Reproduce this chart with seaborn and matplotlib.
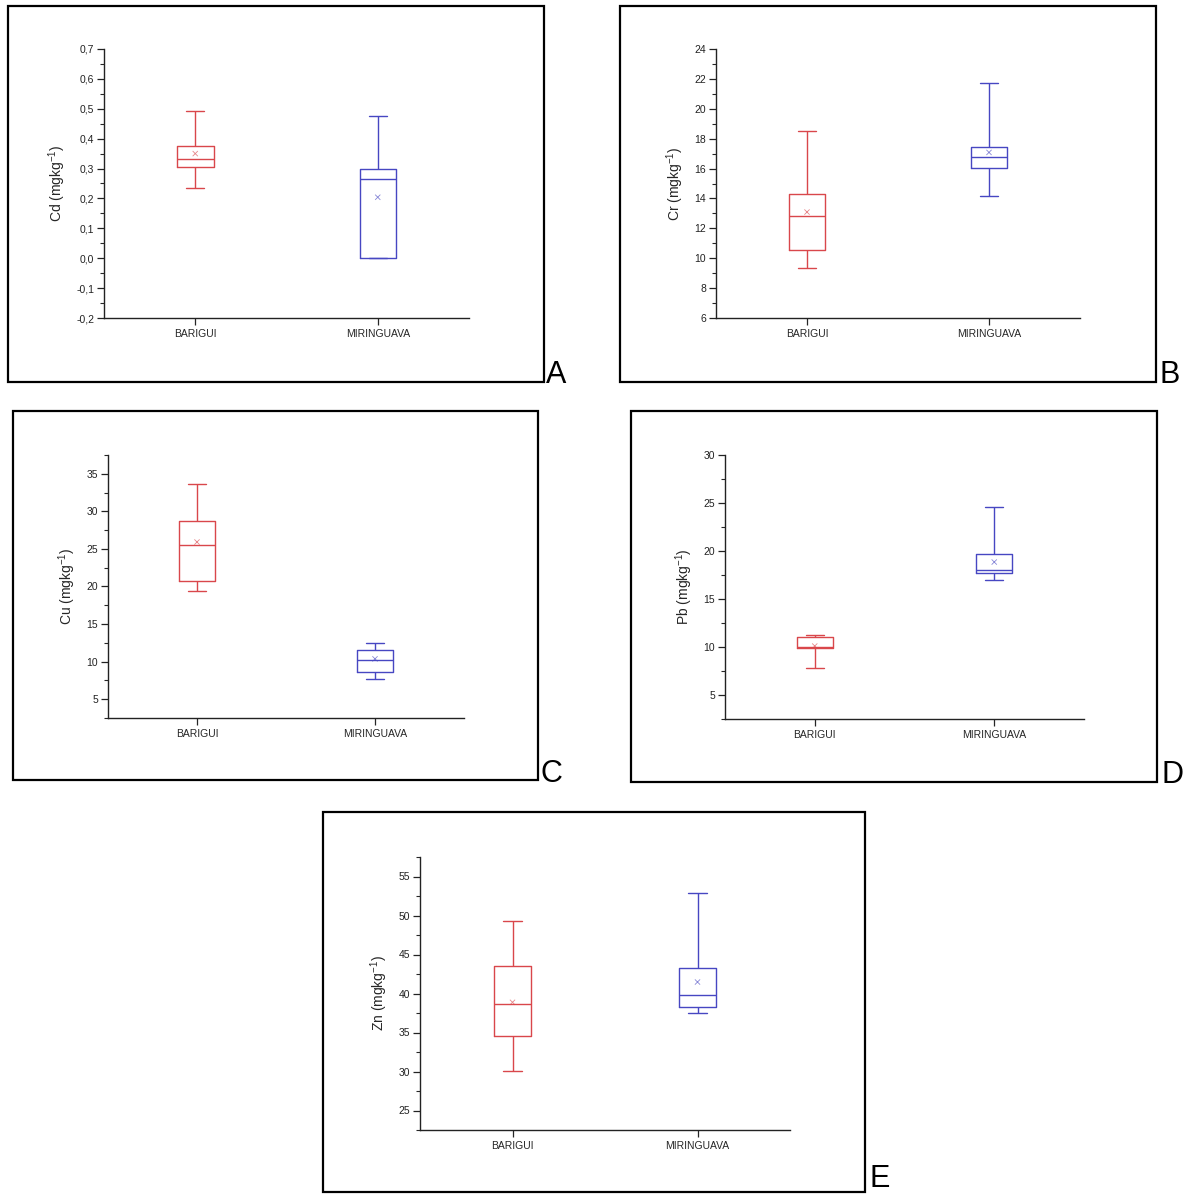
import numpy as np
import pandas as pd
import matplotlib
matplotlib.use("Agg")
import matplotlib.pyplot as plt
import seaborn as sns
from matplotlib.ticker import MultipleLocator, FuncFormatter
from matplotlib.patches import Rectangle

# ---------------- data (five-number summaries + mean) -------------
sites = ["BARIGUI", "MIRINGUAVA"]
colors = ["#D9474B", "#4747C2"]

# order: whisker low, Q1, median, Q3, whisker high
cd_barigui = [0.236, 0.306, 0.332, 0.377, 0.491]
cd_miringuava = [0.0, 0.0, 0.264, 0.297, 0.476]
cd_means = [0.350, 0.204]

cr_barigui = [9.34, 10.53, 12.85, 14.30, 18.53]
cr_miringuava = [14.14, 16.01, 16.77, 17.42, 21.72]
cr_means = [13.09, 17.08]

cu_barigui = [19.45, 20.78, 25.56, 28.71, 33.63]
cu_miringuava = [7.75, 8.59, 10.28, 11.52, 12.54]
cu_means = [25.92, 10.37]

pb_barigui = [7.77, 9.85, 10.02, 10.99, 11.20]
pb_miringuava = [17.01, 17.74, 17.98, 19.65, 24.63]
pb_means = [10.10, 18.85]

zn_barigui = [30.12, 34.51, 38.61, 43.56, 49.28]
zn_miringuava = [37.54, 38.23, 39.81, 43.22, 52.91]
zn_means = [38.87, 41.47]

ylabels = ["Cd (mgkg$^{-1}$)", "Cr (mgkg$^{-1}$)", "Cu (mgkg$^{-1}$)",
           "Pb (mgkg$^{-1}$)", "Zn (mgkg$^{-1}$)"]
panel_letters = ["A", "B", "C", "D", "E"]

# ---------------- styling ----------------
sns.set_style("ticks")
plt.rcParams["font.family"] = ["Liberation Sans", "DejaVu Sans"]
plt.rcParams["mathtext.fontset"] = "custom"
plt.rcParams["mathtext.rm"] = "Liberation Sans"
plt.rcParams["mathtext.it"] = "Liberation Sans:italic"
plt.rcParams["mathtext.bf"] = "Liberation Sans:bold"

W, H = 1188, 1195
fig = plt.figure(figsize=(W / 100, H / 100), dpi=100)


def fig_axes(left, top, right, bottom):
    return fig.add_axes([left / W, 1 - bottom / H, (right - left) / W, (bottom - top) / H])


def frame(left, top, right, bottom, letter, lx, ly, va):
    fig.add_artist(Rectangle((left / W, 1 - bottom / H), (right - left) / W, (bottom - top) / H,
                             transform=fig.transFigure, fill=False, lw=1.6, ec="black"))
    fig.text(lx / W, 1 - ly / H, letter, fontsize=22, ha="left", va=va, color="black")


panels = [
    # (barigui, miringuava, means, ylim, major, minor, comma, axes box, frame box, letter pos)
    (cd_barigui, cd_miringuava, cd_means, (-0.2, 0.7), 0.1, 0.05, True,
     (104, 49, 469, 318), (8, 6, 544, 382), (546, 383, "baseline")),
    (cr_barigui, cr_miringuava, cr_means, (6, 24), 2, 1, False,
     (716, 49, 1080, 318), (620, 6, 1156, 382), (1159, 383, "baseline")),
    (cu_barigui, cu_miringuava, cu_means, (2.5, 37.5), 5, 2.5, False,
     (108, 455, 464, 718), (13, 411, 538, 780), (540, 782, "baseline")),
    (pb_barigui, pb_miringuava, pb_means, (2.5, 30), 5, 2.5, False,
     (725, 455, 1084, 719), (631, 411, 1157, 782), (1161, 783, "baseline")),
    (zn_barigui, zn_miringuava, zn_means, (22.5, 57.5), 5, 2.5, False,
     (420, 857, 790, 1130), (323, 812, 865, 1192), (869, 1194, "bottom")),
]

for i, (bar, mir, means, ylim, major, minor, comma, abox, fbox, lpos) in enumerate(panels):
    ax = fig_axes(*abox)
    df = pd.DataFrame({
        "site": [sites[0]] * len(bar) + [sites[1]] * len(mir),
        "value": list(bar) + list(mir),
    })
    sns.boxplot(data=df, x="site", y="value", hue="site", order=sites, hue_order=sites,
                palette=colors, fill=False, width=0.2, whis=(0, 100), linewidth=1.0,
                legend=False, ax=ax)
    mdf = pd.DataFrame({"site": sites, "mean": means})
    sns.scatterplot(data=mdf, x="site", y="mean", hue="site", hue_order=sites,
                    palette=colors, marker="x", s=14, linewidth=0.6, alpha=0.65,
                    legend=False, ax=ax)
    ax.set_xlim(-0.5, 1.5)
    ax.set_ylim(*ylim)
    ax.yaxis.set_major_locator(MultipleLocator(major))
    ax.yaxis.set_minor_locator(MultipleLocator(minor))
    if comma:
        ax.yaxis.set_major_formatter(FuncFormatter(lambda v, p: f"{v:.1f}".replace(".", ",")))
    else:
        ax.yaxis.set_major_formatter(FuncFormatter(lambda v, p: f"{v:g}"))
    ax.set_xlabel("")
    ax.set_ylabel(ylabels[i], fontsize=10, labelpad=6)
    ax.tick_params(axis="y", which="major", direction="out", length=5, width=0.9,
                   labelsize=7.5, pad=2, colors="#222222")
    ax.tick_params(axis="y", which="minor", direction="out", length=3, width=0.8)
    ax.tick_params(axis="x", which="major", direction="out", length=5, width=0.9,
                   labelsize=7.5, pad=3)
    for s in ["top", "right"]:
        ax.spines[s].set_visible(False)
    for s in ["left", "bottom"]:
        ax.spines[s].set_linewidth(1.0)
        ax.spines[s].set_color("#222222")
    frame(*fbox, panel_letters[i], *lpos)

fig.savefig("out.png", dpi=100, facecolor="white")
